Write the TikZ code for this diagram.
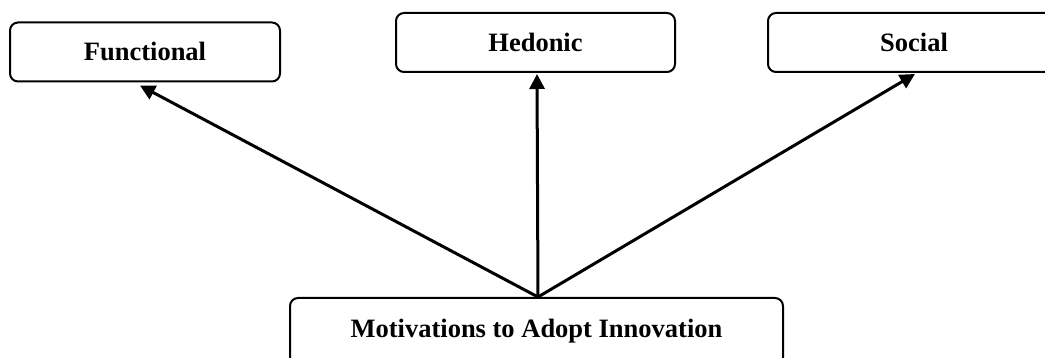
\documentclass[tikz,border=0pt]{standalone}
\usepackage{fontspec}
\setmainfont{Liberation Serif}
\usetikzlibrary{arrows.meta}
\begin{document}
\begin{tikzpicture}[x=1pt,y=-1pt,
  box/.style={draw=black,line width=2pt,rounded corners=8pt,fill=white,
    font=\fontsize{26.5}{30}\selectfont\bfseries,text height=17.5pt,text depth=0pt,
    minimum height=59pt,inner sep=0pt},
  arr/.style={line width=3pt,-{Triangle[length=15pt,width=15pt]}}]
\useasboundingbox (0,0) rectangle (1045,358);
\clip (0,0) rectangle (1045,358);
\node[box,minimum width=270pt] (f) at (145,52) {Functional};
\node[box,minimum width=279pt] (h) at (535.5,42.5) {Hedonic};
\node[box,minimum width=292pt] (s) at (914,42.5) {Social};
\node[box,anchor=north,minimum width=493pt,text depth=40pt,inner ysep=22pt] (m) at (536.5,297) {Motivations to Adopt Innovation};
\draw[arr] ([xshift=1.5pt]m.north) -- ([xshift=-5pt,yshift=-3pt]f.south);
\draw[arr] ([xshift=1.5pt]m.north) -- ([xshift=1.5pt,yshift=-1pt]h.south);
\draw[arr] ([xshift=1.5pt]m.north) -- ([xshift=1pt,yshift=-1pt]s.south);
\end{tikzpicture}
\end{document}
